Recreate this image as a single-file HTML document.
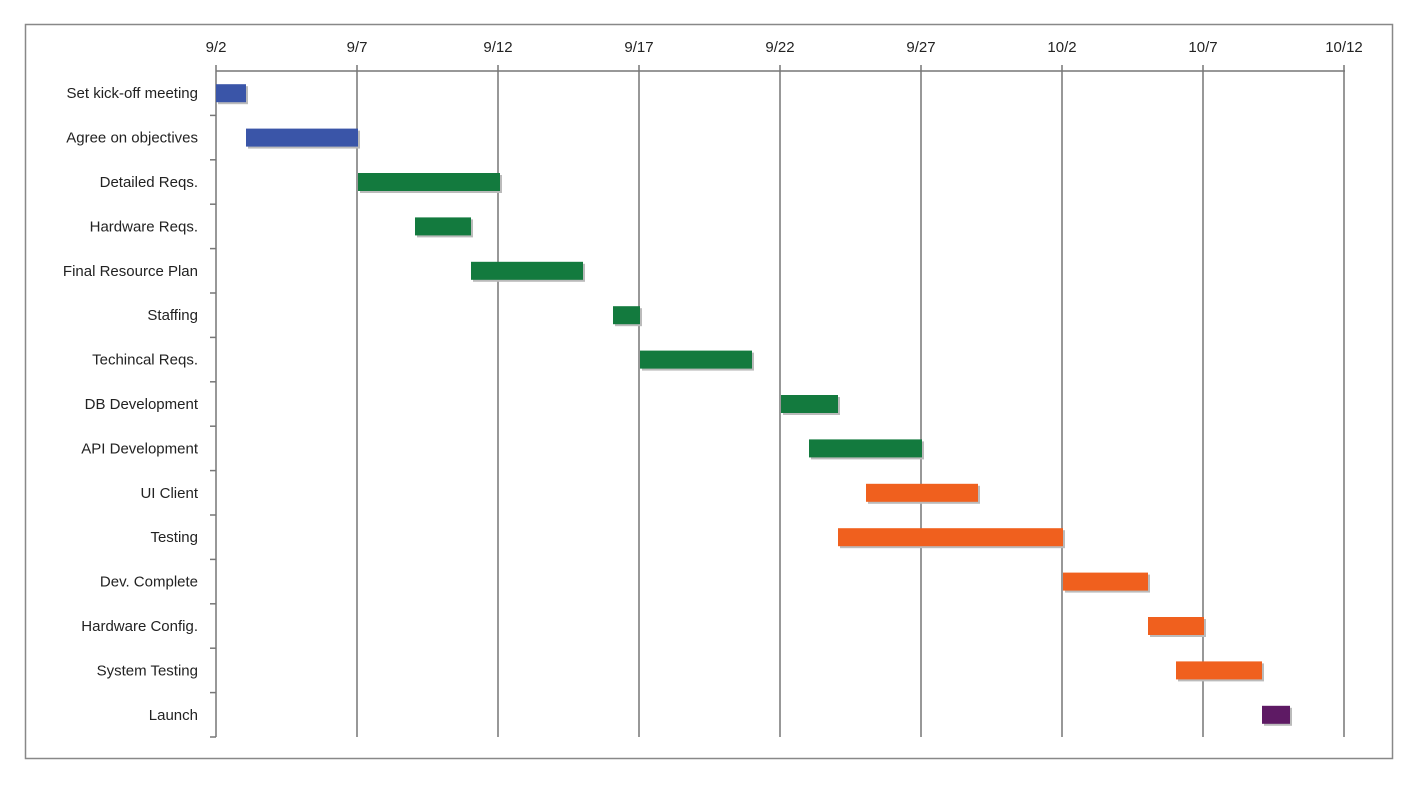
<!DOCTYPE html>
<html><head><meta charset="utf-8"><style>
body{margin:0;background:#fff;}
</style></head><body>
<svg width="1424" height="786" xmlns="http://www.w3.org/2000/svg" font-family="Liberation Sans, sans-serif">
<rect width="1424" height="786" fill="#fff"/>
<rect x="25.5" y="24.5" width="1367" height="734" fill="none" stroke="#888" stroke-width="1.5"/>
<g id="grid" stroke="#777" stroke-width="1.5"></g>
<g id="lab" font-size="15" fill="#222"></g>
<g id="bars"></g>
<script>
(function(){
var ns="http://www.w3.org/2000/svg";
function el(t,a,p,txt){var e=document.createElementNS(ns,t);for(var k in a)e.setAttribute(k,a[k]);if(txt)e.textContent=txt;document.getElementById(p).appendChild(e);return e;}
var x0=216,d=28.2,T=71,B=737;
var ticks=["9/2","9/7","9/12","9/17","9/22","9/27","10/2","10/7","10/12"];
el("line",{x1:x0,y1:T,x2:1345,y2:T},"grid");
for(var i=0;i<9;i++){var x=x0+i*5*d;el("line",{x1:x,y1:T-6,x2:x,y2:B},"grid");
el("text",{x:x,y:52,"text-anchor":"middle"},"lab",ticks[i]);}
var names=["Set kick-off meeting","Agree on objectives","Detailed Reqs.","Hardware Reqs.","Final Resource Plan","Staffing","Techincal Reqs.","DB Development","API Development","UI Client","Testing","Dev. Complete","Hardware Config.","System Testing","Launch"];
var bars=[[216,246,"#3a55a8"],[246,358,"#3a55a8"],[358,500,"#137a3e"],[415,471,"#137a3e"],[471,583,"#137a3e"],[613,640,"#137a3e"],[640,752,"#137a3e"],[781,838,"#137a3e"],[809,922,"#137a3e"],[866,978,"#f0601e"],[838,1063,"#f0601e"],[1063,1148,"#f0601e"],[1148,1204,"#f0601e"],[1176,1262,"#f0601e"],[1262,1290,"#5e1a64"]];
var rh=(B-T)/15;
for(var i=0;i<15;i++){var cy=T+rh*(i+0.5);
el("text",{x:198,y:cy+5,"text-anchor":"end"},"lab",names[i]);
var yb=T+rh*(i+1);el("line",{x1:x0-6,y1:yb,x2:x0,y2:yb},"grid");
var b=bars[i];
el("rect",{x:b[0]+2,y:cy-7,width:b[1]-b[0],height:18,fill:"#bbb"},"bars");
el("rect",{x:b[0],y:cy-9,width:b[1]-b[0],height:18,fill:b[2]},"bars");}
})();
</script>
</svg>
</body></html>
